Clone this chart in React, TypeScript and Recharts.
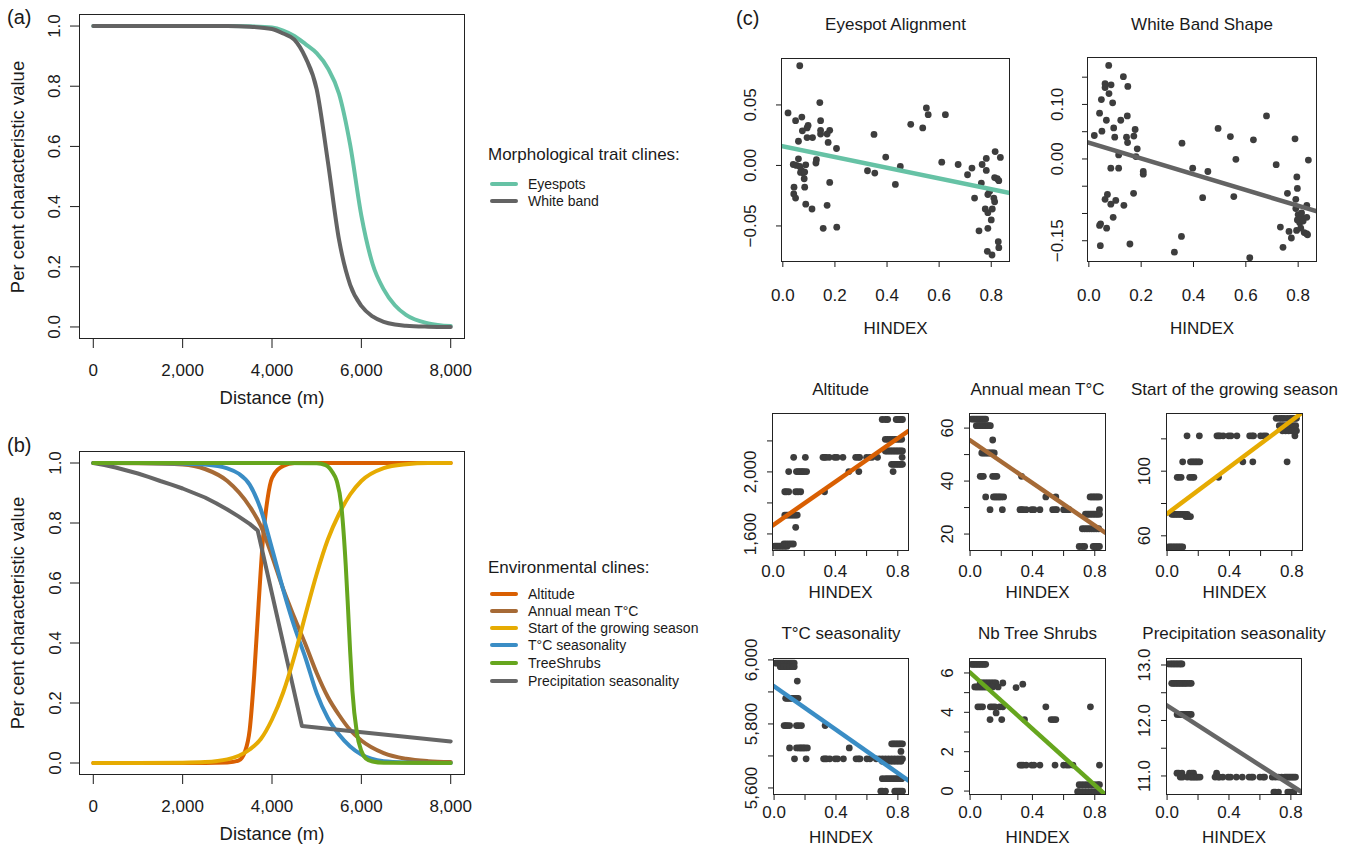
import React from "react";
import { LineChart, Line, XAxis, YAxis, ScatterChart, Scatter } from "recharts";

const FONT = '"Liberation Sans", Arial, Helvetica, sans-serif';
const INK = "#1a1a1a";
const DOT = "#3d3d3d";

// ---------- (a) morphological trait clines: [distance m, proportion]
const eyespotsCline = [
  [0, 1], [1000, 1], [2000, 1], [3000, 1], [3500, 0.999], [4000, 0.995], [4250, 0.985],
  [4500, 0.967], [4750, 0.94], [5000, 0.91], [5250, 0.86], [5500, 0.775], [5750, 0.605],
  [6000, 0.37], [6250, 0.21], [6500, 0.125], [6750, 0.072], [7000, 0.04], [7500, 0.012], [8000, 0.003],
];
const whiteBandCline = [
  [0, 1], [1000, 1], [2000, 1], [3000, 1], [3500, 0.998], [4000, 0.99], [4250, 0.975],
  [4500, 0.955], [4750, 0.895], [5000, 0.79], [5250, 0.55], [5500, 0.29], [5750, 0.14],
  [6000, 0.07], [6250, 0.035], [6500, 0.017], [6750, 0.008], [7000, 0.004], [7500, 0.001], [8000, 0],
];

// ---------- (b) environmental clines
const altitudeCline = [
  [0, 0], [2000, 0], [3000, 0.002], [3250, 0.008], [3400, 0.04], [3500, 0.11], [3600, 0.29],
  [3700, 0.53], [3800, 0.75], [3900, 0.88], [4000, 0.95], [4250, 0.99], [4500, 1], [8000, 1],
];
const annualMeanCline = [
  [0, 1], [1000, 0.999], [2000, 0.995], [2500, 0.98], [3000, 0.94], [3500, 0.855], [3750, 0.79],
  [4000, 0.69], [4250, 0.58], [4500, 0.485], [4750, 0.395], [5000, 0.3], [5250, 0.22], [5500, 0.16],
  [5750, 0.11], [6000, 0.075], [6500, 0.033], [7000, 0.014], [7500, 0.006], [8000, 0.003],
];
const startSeasonCline = [
  [0, 0], [1000, 0], [2000, 0.001], [2500, 0.003], [3000, 0.012], [3500, 0.045], [3750, 0.08],
  [4000, 0.145], [4250, 0.235], [4500, 0.355], [4750, 0.495], [5000, 0.63], [5250, 0.745],
  [5500, 0.83], [5750, 0.895], [6000, 0.94], [6500, 0.983], [7000, 0.996], [7500, 1], [8000, 1],
];
const tSeasonalityCline = [
  [0, 1], [1000, 1], [2000, 0.998], [2500, 0.995], [3000, 0.982], [3250, 0.965], [3500, 0.928],
  [3750, 0.845], [4000, 0.715], [4250, 0.578], [4500, 0.455], [4750, 0.35], [5000, 0.233],
  [5250, 0.15], [5500, 0.095], [5750, 0.055], [6000, 0.028], [6500, 0.006], [7000, 0.002], [8000, 0],
];
const treeShrubsCline = [
  [0, 1], [4000, 1], [5000, 0.999], [5200, 0.993], [5350, 0.97], [5450, 0.94], [5550, 0.86],
  [5650, 0.66], [5700, 0.52], [5750, 0.37], [5800, 0.24], [5900, 0.1], [6000, 0.04], [6100, 0.015],
  [6250, 0.005], [6500, 0.001], [8000, 0],
];
// piecewise, drawn with straight segments so the two kinks stay sharp
const precipCline = [
  [0, 1], [250, 0.993], [500, 0.985], [750, 0.975], [1000, 0.965], [1250, 0.953], [1500, 0.94],
  [1750, 0.928], [2000, 0.915], [2250, 0.9], [2500, 0.885], [2750, 0.866], [3000, 0.845],
  [3250, 0.822], [3500, 0.797], [3680, 0.775], [4670, 0.123], [8000, 0.072],
];

const DIST_TICKS = [0, 2000, 4000, 6000, 8000];
const PROP_TICKS = [0, 0.2, 0.4, 0.6, 0.8, 1.0];

// ---------- (c) morphology vs HINDEX: [hindex, score]
const eyespotAlignment = [
  [0.065, 0.0824], [0.02, 0.0434], [0.049, 0.037], [0.073, 0.04], [0.097, 0.033], [0.093, 0.031],
  [0.075, 0.0286], [0.093, 0.023], [0.114, 0.023], [0.06, 0.02], [0.142, 0.052], [0.145, 0.037],
  [0.145, 0.029], [0.145, 0.026], [0.18, 0.029], [0.17, 0.026], [0.174, 0.019], [0.206, 0.014],
  [0.06, 0.0055], [0.129, 0.0047], [0.127, 0.002], [0.04, 0.0008], [0.052, 0], [0.065, -0.0008],
  [0.072, -0.004], [0.078, -0.006], [0.088, 0.0005], [0.068, -0.0058], [0.084, -0.0055],
  [0.082, -0.011], [0.043, -0.018], [0.084, -0.018], [0.042, -0.0236], [0.049, -0.027],
  [0.088, -0.032], [0.112, -0.036], [0.18, -0.014], [0.17, -0.033], [0.155, -0.052], [0.207, -0.051],
  [0.325, -0.0044], [0.353, -0.0063], [0.35, 0.0256], [0.395, 0.0069], [0.432, -0.0157],
  [0.451, -0.0008], [0.491, 0.034], [0.537, 0.031], [0.551, 0.0475], [0.558, 0.042], [0.624, 0.042],
  [0.61, 0.0027], [0.673, 0.0008], [0.709, -0.0077], [0.726, -0.0022], [0.736, -0.027],
  [0.753, -0.054], [0.762, -0.0146], [0.765, 0.0008], [0.781, 0.0058], [0.781, -0.0041],
  [0.787, -0.024], [0.794, -0.0214], [0.777, -0.036], [0.787, -0.039], [0.8, -0.045], [0.804, -0.036],
  [0.787, -0.052], [0.81, -0.027], [0.813, -0.03], [0.815, 0.0115], [0.835, 0.0066], [0.813, -0.01],
  [0.823, -0.011], [0.829, -0.0126], [0.785, -0.071], [0.803, -0.074], [0.827, -0.063], [0.829, -0.068],
];
const whiteBandShape = [
  [0.076, 0.1716], [0.132, 0.151], [0.062, 0.138], [0.062, 0.131], [0.085, 0.136], [0.149, 0.133],
  [0.077, 0.12], [0.048, 0.109], [0.091, 0.103], [0.041, 0.084], [0.067, 0.071], [0.122, 0.071],
  [0.147, 0.079], [0.05, 0.051], [0.095, 0.057], [0.021, 0.043], [0.099, 0.04], [0.144, 0.04],
  [0.148, 0.03], [0.172, 0.042], [0.177, 0.054], [0.185, 0.0185], [0.114, 0.0074], [0.18, 0.0043],
  [0.084, -0.017], [0.114, -0.017], [0.208, -0.023], [0.208, -0.028], [0.171, -0.063], [0.071, -0.065],
  [0.062, -0.074], [0.103, -0.076], [0.084, -0.083], [0.134, -0.085], [0.093, -0.107], [0.045, -0.119],
  [0.041, -0.122], [0.068, -0.127], [0.044, -0.159], [0.157, -0.156], [0.356, 0.029], [0.354, -0.142],
  [0.327, -0.171], [0.397, -0.017], [0.455, -0.023], [0.435, -0.071], [0.494, 0.056], [0.541, 0.041],
  [0.554, -0.069], [0.562, -0.0006], [0.629, 0.035], [0.615, -0.181], [0.679, 0.079], [0.716, -0.0105],
  [0.732, -0.125], [0.742, -0.162], [0.759, -0.063], [0.765, -0.133], [0.774, -0.145], [0.788, 0.037],
  [0.795, -0.033], [0.797, -0.054], [0.791, -0.074], [0.791, -0.091], [0.8, -0.102], [0.813, -0.108],
  [0.813, -0.099], [0.797, -0.112], [0.806, -0.117], [0.819, -0.114], [0.794, -0.131], [0.81, -0.127],
  [0.823, -0.135], [0.832, -0.137], [0.836, -0.139], [0.833, -0.085], [0.833, -0.107], [0.839, -0.002],
];

// ---------- (c) environment vs HINDEX, grouped as [value, hindex list]
const altitudeBands: [number, number[]][] = [
  [1521, [0.01, 0.02, 0.03, 0.04, 0.05, 0.06, 0.07, 0.08, 0.09]],
  [1535, [0.07, 0.085, 0.1, 0.115, 0.13]],
  [1643, [0.145]],
  [1722, [0.075, 0.085, 0.095, 0.105, 0.115, 0.125, 0.135, 0.145, 0.155]],
  [1872, [0.075, 0.085, 0.1, 0.145, 0.16, 0.177, 0.33]],
  [2002, [0.1, 0.15, 0.16, 0.17, 0.18, 0.19, 0.2, 0.215, 0.486, 0.55, 0.77]],
  [2094, [0.132, 0.207, 0.32, 0.33, 0.34, 0.36, 0.395, 0.41, 0.448, 0.53, 0.545, 0.555, 0.6, 0.62, 0.635, 0.67, 0.828]],
  [2049, [0.76, 0.77, 0.78, 0.79, 0.8, 0.81, 0.82, 0.83]],
  [2135, [0.72, 0.73, 0.74, 0.75, 0.76, 0.77, 0.78, 0.79, 0.8, 0.81, 0.82, 0.83]],
  [2210, [0.72, 0.735, 0.75, 0.765, 0.78, 0.795, 0.81, 0.825]],
  [2338, [0.7, 0.72, 0.735, 0.79, 0.8, 0.81, 0.82, 0.83]],
];
const annualMeanBands: [number, number[]][] = [
  [63.4, [0.01, 0.02, 0.03, 0.04, 0.05, 0.06, 0.07, 0.08, 0.09, 0.1]],
  [60.9, [0.04, 0.05, 0.06, 0.07, 0.08, 0.09, 0.1, 0.11, 0.12, 0.13]],
  [55.5, [0.145]],
  [50.6, [0.075, 0.085, 0.095, 0.105, 0.115, 0.125, 0.135, 0.145, 0.155]],
  [41.8, [0.065, 0.075, 0.085, 0.145, 0.16, 0.172, 0.33]],
  [34, [0.1, 0.15, 0.16, 0.17, 0.18, 0.19, 0.2, 0.215, 0.486, 0.55, 0.77, 0.78, 0.79, 0.8, 0.81, 0.82, 0.83]],
  [29.2, [0.128, 0.207, 0.32, 0.33, 0.34, 0.36, 0.395, 0.41, 0.448, 0.53, 0.545, 0.555, 0.6, 0.62, 0.635, 0.83]],
  [27.5, [0.74, 0.75, 0.76, 0.77, 0.78, 0.79, 0.8, 0.81, 0.82, 0.83]],
  [22, [0.72, 0.735, 0.75, 0.765, 0.78, 0.795, 0.81, 0.825]],
  [15.3, [0.7, 0.72, 0.735, 0.79, 0.8, 0.81, 0.82, 0.83]],
];
const startSeasonBands: [number, number[]][] = [
  [53.1, [0.01, 0.02, 0.03, 0.04, 0.05, 0.06, 0.07, 0.08, 0.09, 0.1]],
  [73.3, [0.03, 0.04, 0.05, 0.06, 0.07, 0.08, 0.09, 0.1, 0.11, 0.12, 0.13]],
  [71.9, [0.12, 0.135, 0.15]],
  [96.2, [0.065, 0.075, 0.09, 0.145, 0.16, 0.172, 0.33]],
  [105.8, [0.1, 0.15, 0.16, 0.17, 0.18, 0.19, 0.2, 0.21, 0.486, 0.55, 0.77]],
  [121.9, [0.128, 0.207, 0.32, 0.33, 0.34, 0.36, 0.395, 0.41, 0.448, 0.53, 0.545, 0.555, 0.6, 0.62, 0.635, 0.82]],
  [132.7, [0.7, 0.72, 0.735, 0.75, 0.77, 0.79, 0.8, 0.81, 0.82, 0.83]],
  [128.1, [0.72, 0.735, 0.75, 0.765, 0.78, 0.795, 0.81, 0.825]],
  [125, [0.74, 0.76, 0.78, 0.8, 0.82, 0.83]],
];
const tSeasonalityBands: [number, number[]][] = [
  [5990, [0.01, 0.02, 0.03, 0.04, 0.05, 0.06, 0.07, 0.08, 0.09, 0.1, 0.11, 0.12, 0.13]],
  [5979, [0.04, 0.06, 0.08, 0.1, 0.12, 0.13]],
  [5934, [0.15]],
  [5880, [0.075, 0.085, 0.095, 0.105, 0.115, 0.125, 0.135, 0.145, 0.155]],
  [5795, [0.065, 0.075, 0.085, 0.1, 0.145, 0.16, 0.177, 0.33]],
  [5725, [0.1, 0.145, 0.16, 0.17, 0.18, 0.19, 0.2, 0.215, 0.486]],
  [5691, [0.132, 0.207, 0.32, 0.33, 0.34, 0.36, 0.395, 0.41, 0.448, 0.53, 0.545, 0.555, 0.6, 0.62, 0.66, 0.68, 0.7, 0.72, 0.74, 0.76, 0.78, 0.8, 0.82, 0.83]],
  [5738, [0.76, 0.77, 0.78, 0.79, 0.8, 0.81, 0.82, 0.83]],
  [5714, [0.82]],
  [5683, [0.7, 0.72, 0.74, 0.76, 0.78, 0.8, 0.82]],
  [5629, [0.7, 0.72, 0.735, 0.75, 0.765, 0.78, 0.795, 0.81, 0.825]],
  [5590, [0.69, 0.7, 0.72, 0.78, 0.79, 0.8, 0.81, 0.82, 0.83]],
];
const treeShrubBands: [number, number[]][] = [
  [6.44, [0.01, 0.02, 0.03, 0.04, 0.05, 0.06, 0.07, 0.08, 0.09, 0.1]],
  [5.49, [0.065, 0.075, 0.085, 0.095, 0.105, 0.115, 0.125, 0.135, 0.145, 0.155, 0.165, 0.21]],
  [5.29, [0.03, 0.04, 0.05, 0.06, 0.07, 0.08, 0.09, 0.1, 0.11, 0.12, 0.13, 0.145, 0.18]],
  [5.43, [0.338]],
  [5.26, [0.295]],
  [4.28, [0.05, 0.065, 0.08, 0.13, 0.145, 0.16, 0.19, 0.21, 0.486, 0.772]],
  [3.97, [0.167]],
  [3.63, [0.128, 0.203, 0.349, 0.52, 0.535, 0.55]],
  [1.32, [0.32, 0.33, 0.34, 0.36, 0.395, 0.41, 0.448, 0.545, 0.6, 0.62, 0.635, 0.66, 0.83]],
  [0.32, [0.7, 0.72, 0.74, 0.76, 0.78, 0.8, 0.82, 0.83]],
  [-0.03, [0.69, 0.7, 0.72, 0.74, 0.76, 0.78, 0.8, 0.82, 0.83]],
];
const precipBands: [number, number[]][] = [
  [13.02, [0.006, 0.02, 0.03, 0.04, 0.05, 0.06, 0.07, 0.08, 0.09, 0.096]],
  [12.67, [0.03, 0.04, 0.05, 0.06, 0.07, 0.08, 0.09, 0.1, 0.11, 0.12, 0.13, 0.145, 0.156]],
  [12.11, [0.065, 0.075, 0.085, 0.095, 0.105, 0.115, 0.125, 0.135, 0.145, 0.156]],
  [11.05, [0.064, 0.075, 0.096, 0.145, 0.16, 0.171, 0.32]],
  [10.98, [0.085, 0.1, 0.13, 0.15, 0.16, 0.17, 0.18, 0.19, 0.2, 0.213, 0.31, 0.33, 0.34, 0.36, 0.395, 0.41, 0.448, 0.486, 0.53, 0.545, 0.555, 0.6, 0.62, 0.63, 0.68, 0.7, 0.72, 0.74, 0.76, 0.77, 0.78, 0.79, 0.8, 0.81, 0.82, 0.83]],
  [10.71, [0.69, 0.7, 0.72, 0.78, 0.79, 0.8, 0.81, 0.82]],
];

// fitted regression lines, value read at the two ends of the HINDEX axis
const HINDEX_DOMAIN = [-0.007, 0.872];
const eyespotFit = [0.0161, -0.0229];
const whiteBandFit = [0.0308, -0.0963];
const altitudeFit = [1652, 2267];
const annualMeanFit = [55.64, 20.3];
const startSeasonFit = [73.2, 136.6];
const tSeasonalityFit = [5920, 5622];
const treeShrubFit = [6.07, -0.21];
const precipFit = [12.28, 10.706];

const toRows = (pairs: number[][]) => pairs.map(([x, y]) => ({ x, y }));
const fromBands = (bands: [number, number[]][]) =>
  bands.flatMap(([y, xs]) => xs.map((x) => ({ x, y })));
const fitRows = (ends: number[]) => HINDEX_DOMAIN.map((x, i) => ({ x, y: ends[i] }));

type Box = { l: number; t: number; r: number; b: number };
const YW = 70;
const XH = 70;
const PT = 30;
const PR = 10;

const textStyle = (size: number): React.CSSProperties => ({
  position: "absolute",
  fontFamily: FONT,
  fontSize: size,
  color: INK,
  whiteSpace: "nowrap",
  lineHeight: 1,
});

function Label({ x, y, size = 17, rotate = false, anchor = "middle", children }: any) {
  const tx = anchor === "middle" ? "-50%" : "0";
  return (
    <div
      style={{
        ...textStyle(size),
        left: x,
        top: y,
        transform: `translate(${tx}, -50%)${rotate ? " rotate(-90deg)" : ""}`,
        transformOrigin: anchor === "middle" ? "50% 50%" : "0 50%",
      }}
    >
      {children}
    </div>
  );
}

const near = (list: number[], v: number) => list.some((s) => Math.abs(s - v) < 1e-6);

const makeXTick = (off: number, size: number, shown: number[], fmt: (v: number) => string) => (p: any) => {
  const v = p.payload.value;
  if (!near(shown, v)) return <g />;
  return (
    <text x={p.x} y={p.y - size + off} textAnchor="middle" dominantBaseline="central"
      fontSize={17} fontFamily={FONT} fill={INK}>
      {fmt(v)}
    </text>
  );
};

const makeYTick = (off: number, size: number, shown: number[], fmt: (v: number) => string) => (p: any) => {
  const v = p.payload.value;
  if (!near(shown, v)) return <g />;
  const cx = p.x + size - off;
  return (
    <text x={cx} y={p.y} transform={`rotate(-90 ${cx} ${p.y})`} textAnchor="middle"
      dominantBaseline="central" fontSize={17} fontFamily={FONT} fill={INK}>
      {fmt(v)}
    </text>
  );
};

function Frame({ box }: { box: Box }) {
  return (
    <div style={{ position: "absolute", left: box.l, top: box.t, width: box.r - box.l,
      height: box.b - box.t, border: "1px solid #222", boxSizing: "border-box", pointerEvents: "none" }} />
  );
}

const wrapStyle = (box: Box): React.CSSProperties => ({ position: "absolute", left: box.l - YW, top: box.t - PT });
const chartW = (box: Box) => YW + (box.r - box.l) + PR;
const chartH = (box: Box) => PT + (box.b - box.t) + XH;

const fmtComma = (v: number) => v.toLocaleString("en-US");
const fmtMinus = (d: number) => (v: number) => (v < 0 ? "\u2212" : "") + Math.abs(v).toFixed(d);

function ClinePanel({ box, series, letter, letterY }: any) {
  const TS = 9;
  return (
    <>
      <div style={wrapStyle(box)}>
        <LineChart width={chartW(box)} height={chartH(box)} margin={{ top: PT, right: PR, left: 0, bottom: 0 }}>
          <XAxis type="number" dataKey="x" domain={[-320, 8320]} ticks={DIST_TICKS} interval={0}
            allowDataOverflow height={XH} tickSize={TS} tickMargin={0} axisLine={false}
            tickLine={{ stroke: INK }} tick={makeXTick(31, TS, DIST_TICKS, fmtComma)} />
          <YAxis type="number" domain={[-0.04, 1.04]} ticks={PROP_TICKS} interval={0} allowDataOverflow
            width={YW} tickSize={TS} tickMargin={0} axisLine={false} tickLine={{ stroke: INK }}
            tick={makeYTick(24, TS, PROP_TICKS, (v) => v.toFixed(1))} />
          {series.map((s: any) => (
            <Line key={s.name} data={toRows(s.data)} dataKey="y" type={s.linear ? "linear" : "monotone"}
              stroke={s.color} strokeWidth={4} dot={false} strokeLinecap="round" strokeLinejoin="round"
              isAnimationActive={false} />
          ))}
        </LineChart>
      </div>
      <Frame box={box} />
      <Label x={(box.l + box.r) / 2} y={box.b + 59} size={18.5}>Distance (m)</Label>
      <Label x={18} y={(box.t + box.b) / 2} size={18.5} rotate>Per cent characteristic value</Label>
      <Label x={7} y={letterY} size={20} anchor="start">{letter}</Label>
    </>
  );
}

function ScatterPanel({ box, title, titleY, yDomain, yTicks, yShown, yFmt, xShown, pts, fit, color,
  yOff, xOff, hOff }: any) {
  const TS = 5;
  const xTicks = [0, 0.2, 0.4, 0.6, 0.8];
  return (
    <>
      <div style={wrapStyle(box)}>
        <ScatterChart width={chartW(box)} height={chartH(box)} margin={{ top: PT, right: PR, left: 0, bottom: 0 }}>
          <XAxis type="number" dataKey="x" domain={HINDEX_DOMAIN} ticks={xTicks} interval={0}
            allowDataOverflow height={XH} tickSize={TS} tickMargin={0} axisLine={false}
            tickLine={{ stroke: INK }} tick={makeXTick(xOff, TS, xShown, (v) => v.toFixed(1))} />
          <YAxis type="number" dataKey="y" domain={yDomain} ticks={yTicks} interval={0}
            allowDataOverflow width={YW} tickSize={TS} tickMargin={0} axisLine={false}
            tickLine={{ stroke: INK }} tick={makeYTick(yOff, TS, yShown, yFmt)} />
          <Scatter data={pts} isAnimationActive={false}
            shape={(p: any) => <circle cx={p.cx} cy={p.cy} r={3.4} fill={DOT} />} />
          <Scatter data={fitRows(fit)} isAnimationActive={false}
            line={{ stroke: color, strokeWidth: 4.5 }} shape={() => <g />} />
        </ScatterChart>
      </div>
      <Frame box={box} />
      <Label x={(box.l + box.r) / 2} y={titleY}>{title}</Label>
      <Label x={(box.l + box.r) / 2} y={box.b + hOff}>HINDEX</Label>
    </>
  );
}

function LegendBlock({ x, y, title, items, gaps }: any) {
  return (
    <>
      <Label x={x} y={y} size={17} anchor="start">{title}</Label>
      {items.map((it: any, i: number) => (
        <React.Fragment key={it.name}>
          <div style={{ position: "absolute", left: x + 2, top: gaps[i] - 2, width: 28, height: 4,
            borderRadius: 2, background: it.color }} />
          <Label x={x + 40} y={gaps[i]} size={14} anchor="start">{it.name}</Label>
        </React.Fragment>
      ))}
    </>
  );
}

const C = {
  eyespots: "#66C2A5",
  white: "#636363",
  altitude: "#D95F02",
  annual: "#A66A36",
  start: "#E6AB02",
  tseas: "#3A8DC5",
  tree: "#66A61E",
  precip: "#666666",
};

export default function App() {
  const boxA = { l: 79, t: 14, r: 465, b: 339 };
  const boxB = { l: 79, t: 451, r: 465, b: 775 };
  const seriesA = [
    { name: "Eyespots", data: eyespotsCline, color: C.eyespots },
    { name: "White band", data: whiteBandCline, color: C.white },
  ];
  const seriesB = [
    { name: "Altitude", data: altitudeCline, color: C.altitude },
    { name: "Annual mean T°C", data: annualMeanCline, color: C.annual },
    { name: "T°C seasonality", data: tSeasonalityCline, color: C.tseas },
    { name: "Precipitation seasonality", data: precipCline, color: C.precip, linear: true },
    { name: "Start of the growing season", data: startSeasonCline, color: C.start },
    { name: "TreeShrubs", data: treeShrubsCline, color: C.tree },
  ];
  const legendB = [
    { name: "Altitude", color: C.altitude },
    { name: "Annual mean T°C", color: C.annual },
    { name: "Start of the growing season", color: C.start },
    { name: "T°C seasonality", color: C.tseas },
    { name: "TreeShrubs", color: C.tree },
    { name: "Precipitation seasonality", color: C.precip },
  ];
  const all5 = [0, 0.2, 0.4, 0.6, 0.8];
  const three = [0, 0.4, 0.8];
  const mid = { titleY: 389, xShown: three, yOff: 21, xOff: 20, hOff: 41 };
  const bot = { titleY: 633, xShown: three, yOff: 21, xOff: 17, hOff: 42 };

  return (
    <div style={{ position: "absolute", left: 0, top: 0, width: 1351, height: 846, background: "#fff",
      overflow: "hidden" }}>
      <ClinePanel box={boxA} series={seriesA} letter="(a)" letterY={17} />
      <ClinePanel box={boxB} series={seriesB} letter="(b)" letterY={445} />
      <LegendBlock x={488} y={154} title="Morphological trait clines:"
        items={[{ name: "Eyespots", color: C.eyespots }, { name: "White band", color: C.white }]}
        gaps={[184, 201]} />
      <LegendBlock x={488} y={567} title="Environmental clines:" items={legendB}
        gaps={[594, 611, 628, 645, 663, 681]} />

      <Label x={736} y={18} size={20} anchor="start">(c)</Label>
      <ScatterPanel box={{ l: 781, t: 58, r: 1010, b: 262 }} title="Eyespot Alignment" titleY={24}
        yDomain={[-0.0798, 0.0888]} yTicks={[-0.05, 0, 0.05]} yShown={[-0.05, 0, 0.05]} yFmt={fmtMinus(2)}
        xShown={all5} pts={toRows(eyespotAlignment)} fit={eyespotFit} color={C.eyespots}
        yOff={30} xOff={33} hOff={66} />
      <ScatterPanel box={{ l: 1087, t: 57, r: 1317, b: 262 }} title="White Band Shape" titleY={24}
        yDomain={[-0.189, 0.187]} yTicks={[-0.15, -0.1, -0.05, 0, 0.05, 0.1, 0.15]}
        yShown={[-0.15, 0, 0.1]} yFmt={fmtMinus(2)} xShown={all5} pts={toRows(whiteBandShape)}
        fit={whiteBandFit} color={C.white} yOff={29} xOff={33} hOff={66} />

      <ScatterPanel box={{ l: 772, t: 413, r: 909, b: 551 }} title="Altitude" {...mid}
        yDomain={[1490, 2380]} yTicks={[1600, 1800, 2000, 2200]} yShown={[1600, 2000]} yFmt={fmtComma}
        pts={fromBands(altitudeBands)} fit={altitudeFit} color={C.altitude} />
      <ScatterPanel box={{ l: 969, t: 413, r: 1106, b: 551 }} title="Annual mean T°C" {...mid}
        yDomain={[13.6, 65.7]} yTicks={[20, 30, 40, 50, 60]} yShown={[20, 40, 60]} yFmt={(v: number) => String(v)}
        pts={fromBands(annualMeanBands)} fit={annualMeanFit} color={C.annual} />
      <ScatterPanel box={{ l: 1166, t: 413, r: 1303, b: 551 }} title="Start of the growing season" {...mid}
        yDomain={[50.6, 136]} yTicks={[60, 80, 100, 120]} yShown={[60, 100]} yFmt={(v: number) => String(v)}
        pts={fromBands(startSeasonBands)} fit={startSeasonFit} color={C.start} />

      <ScatterPanel box={{ l: 773, t: 658, r: 909, b: 795 }} title="T°C seasonality" {...bot}
        yDomain={[5578, 6006]} yTicks={[5600, 5700, 5800, 5900, 6000]} yShown={[5600, 5800, 6000]}
        yFmt={fmtComma} pts={fromBands(tSeasonalityBands)} fit={tSeasonalityFit} color={C.tseas} />
      <ScatterPanel box={{ l: 969, t: 658, r: 1106, b: 795 }} title="Nb Tree Shrubs" {...bot}
        yDomain={[-0.2, 6.76]} yTicks={[0, 1, 2, 3, 4, 5, 6]} yShown={[0, 2, 4, 6]}
        yFmt={(v: number) => String(v)} pts={fromBands(treeShrubBands)} fit={treeShrubFit} color={C.tree} />
      <ScatterPanel box={{ l: 1166, t: 658, r: 1302, b: 795 }} title="Precipitation seasonality" {...bot}
        yDomain={[10.657, 13.126]} yTicks={[11, 11.5, 12, 12.5, 13]} yShown={[11, 12, 13]}
        yFmt={(v: number) => v.toFixed(1)} pts={fromBands(precipBands)} fit={precipFit} color={C.precip} />
    </div>
  );
}
